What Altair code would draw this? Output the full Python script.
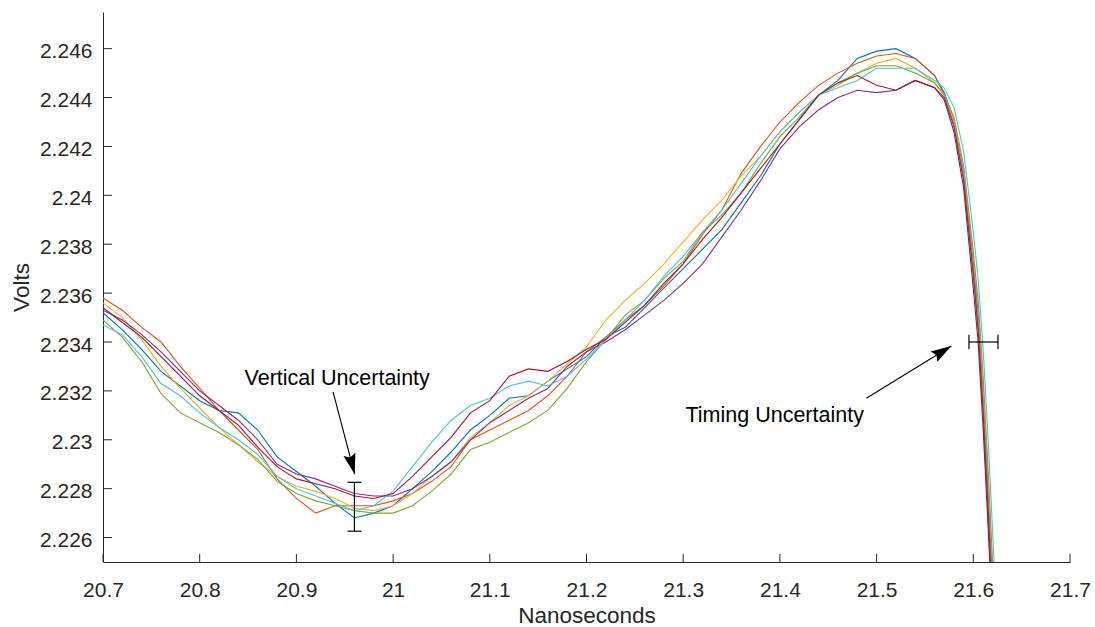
import altair as alt
import pandas as pd

# ---------------- data ----------------
T_GRID = [20.70, 20.72, 20.74, 20.76, 20.78, 20.80, 20.82, 20.84, 20.86, 20.88,
          20.90, 20.92, 20.94, 20.96, 20.98, 21.00, 21.02, 21.04, 21.06, 21.08,
          21.10, 21.12, 21.14, 21.16, 21.18, 21.20, 21.22, 21.24, 21.26, 21.28,
          21.30, 21.32, 21.34, 21.36, 21.38, 21.40, 21.42, 21.44, 21.46, 21.48,
          21.50, 21.52, 21.54, 21.56,
          21.57, 21.58, 21.59, 21.60, 21.605, 21.61, 21.615, 21.62, 21.63]

BLUE = [2.2352, 2.2345, 2.2337, 2.2328, 2.2322, 2.2316, 2.2312, 2.2311, 2.2304, 2.2293,
        2.2287, 2.2281, 2.2274, 2.2268, 2.2270, 2.2273, 2.2280, 2.2287, 2.2295, 2.2304,
        2.2310, 2.2317, 2.2318, 2.2324, 2.2329, 2.2334, 2.2342, 2.2346, 2.2354, 2.2362,
        2.2370, 2.2378, 2.2386, 2.2397, 2.2408, 2.2421, 2.2431, 2.2441, 2.2447, 2.2456,
        2.2459, 2.2460, 2.2456, 2.2449,
        2.2442, 2.2431, 2.2410, 2.2373, 2.2352, 2.2321, 2.2283, 2.2241, 2.2161]
ORANGE = [2.2358, 2.2353, 2.2346, 2.2340, 2.2330, 2.2321, 2.2312, 2.2304, 2.2296, 2.2284,
          2.2276, 2.2270, 2.2273, 2.2273, 2.2273, 2.2275, 2.2278, 2.2283, 2.2289, 2.2300,
          2.2304, 2.2308, 2.2312, 2.2318, 2.2326, 2.2336, 2.2342, 2.2349, 2.2355, 2.2363,
          2.2372, 2.2384, 2.2394, 2.2409, 2.2420, 2.2430, 2.2438, 2.2445, 2.2450, 2.2454,
          2.2457, 2.2458, 2.2456, 2.2449,
          2.2441, 2.2429, 2.2407, 2.2369, 2.2347, 2.2315, 2.2276, 2.2234, 2.2154]
YELLOW = [2.2356, 2.2350, 2.2341, 2.2330, 2.2321, 2.2313, 2.2305, 2.2298, 2.2291, 2.2285,
          2.2281, 2.2279, 2.2276, 2.2272, 2.2271, 2.2273, 2.2278, 2.2285, 2.2291, 2.2301,
          2.2307, 2.2314, 2.2318, 2.2324, 2.2331, 2.2338, 2.2349, 2.2357, 2.2364, 2.2372,
          2.2381, 2.2390, 2.2398, 2.2408, 2.2416, 2.2426, 2.2434, 2.2441, 2.2445, 2.2450,
          2.2454, 2.2456, 2.2452, 2.2446,
          2.2441, 2.2431, 2.2411, 2.2375, 2.2355, 2.2324, 2.2287, 2.2246, 2.2166]
PURPLE = [2.2353, 2.2349, 2.2343, 2.2336, 2.2328, 2.2320, 2.2314, 2.2308, 2.2300, 2.2290,
          2.2286, 2.2284, 2.2281, 2.2278, 2.2277, 2.2277, 2.2280, 2.2285, 2.2291, 2.2300,
          2.2307, 2.2312, 2.2317, 2.2321, 2.2330, 2.2336, 2.2340, 2.2345, 2.2351, 2.2357,
          2.2364, 2.2372, 2.2383, 2.2394, 2.2406, 2.2419, 2.2428, 2.2435, 2.2440, 2.2443,
          2.2442, 2.2443, 2.2447, 2.2444,
          2.2440, 2.2428, 2.2406, 2.2367, 2.2345, 2.2312, 2.2273, 2.2231, 2.2151]
GREEN = [2.2349, 2.2342, 2.2332, 2.2319, 2.2311, 2.2307, 2.2303, 2.2298, 2.2292, 2.2283,
         2.2278, 2.2275, 2.2273, 2.2271, 2.2270, 2.2270, 2.2273, 2.2279, 2.2286, 2.2296,
         2.2299, 2.2303, 2.2307, 2.2312, 2.2321, 2.2332, 2.2341, 2.2351, 2.2357, 2.2366,
         2.2373, 2.2385, 2.2392, 2.2401, 2.2413, 2.2424, 2.2432, 2.2441, 2.2446, 2.2450,
         2.2453, 2.2453, 2.2450, 2.2446,
         2.2441, 2.2432, 2.2412, 2.2377, 2.2357, 2.2327, 2.2290, 2.2249, 2.2169]
CYAN = [2.2347, 2.2343, 2.2334, 2.2323, 2.2318, 2.2311, 2.2305, 2.2300, 2.2294, 2.2285,
        2.2280, 2.2277, 2.2274, 2.2271, 2.2273, 2.2279, 2.2289, 2.2299, 2.2308, 2.2314,
        2.2317, 2.2322, 2.2324, 2.2322, 2.2326, 2.2333, 2.2341, 2.2349, 2.2357, 2.2367,
        2.2375, 2.2385, 2.2394, 2.2405, 2.2416, 2.2426, 2.2434, 2.2441, 2.2444, 2.2447,
        2.2452, 2.2452, 2.2452, 2.2447,
        2.2444, 2.2436, 2.2418, 2.2385, 2.2366, 2.2338, 2.2303, 2.2262, 2.2180]
DARKRED = [2.2354, 2.2348, 2.2342, 2.2334, 2.2326, 2.2318, 2.2312, 2.2306, 2.2297, 2.2289,
           2.2284, 2.2282, 2.2280, 2.2277, 2.2276, 2.2278, 2.2285, 2.2293, 2.2301, 2.2311,
           2.2316, 2.2326, 2.2329, 2.2328, 2.2332, 2.2337, 2.2341, 2.2348, 2.2355, 2.2364,
           2.2372, 2.2382, 2.2391, 2.2401, 2.2411, 2.2421, 2.2431, 2.2441, 2.2446, 2.2449,
           2.2445, 2.2443, 2.2447, 2.2444,
           2.2439, 2.2426, 2.2403, 2.2362, 2.2340, 2.2306, 2.2267, 2.2225, 2.2145]

SERIES_NAMES = ["s1", "s2", "s3", "s4", "s5", "s6", "s7"]
SERIES_COLORS = ["#0072BD", "#D95319", "#EDB120", "#7E2F8E", "#77AC30", "#4DBEEE", "#A2142F"]
SERIES_VALUES = [BLUE, ORANGE, YELLOW, PURPLE, GREEN, CYAN, DARKRED]

X_TICKS = [20.7, 20.8, 20.9, 21.0, 21.1, 21.2, 21.3, 21.4, 21.5, 21.6, 21.7]
Y_TICKS = [2.226, 2.228, 2.230, 2.232, 2.234, 2.236, 2.238, 2.240, 2.242, 2.244, 2.246]
X_DOMAIN = [20.7, 21.7]
Y_DOMAIN = [2.225, 2.2475]

# annotations
LABEL_TEXT = ["Vertical Uncertainty", "Timing Uncertainty"]
LABEL_T = [20.9422, 21.3946]
LABEL_V = [2.23223, 2.23074]

ARROW_T0 = [20.9379, 21.4894]
ARROW_V0 = [2.23196, 2.23170]
ARROW_T1 = [20.9603, 21.5773]
ARROW_V1 = [2.22859, 2.23384]
ARROW_ANGLE = [165, 58]

# error bars: segments (t, v, t2, v2)
ERR_T = [20.96, 20.9528, 20.9528, 21.5955, 21.5955, 21.6255]
ERR_V = [2.22626, 2.22826, 2.22626, 2.234, 2.2337, 2.2337]
ERR_T2 = [20.96, 20.9672, 20.9672, 21.6255, 21.5955, 21.6255]
ERR_V2 = [2.22826, 2.22826, 2.22626, 2.234, 2.2343, 2.2343]

# ---------------- build ----------------
rows = []
for name, vals in zip(SERIES_NAMES, SERIES_VALUES):
    for t, v in zip(T_GRID, vals):
        rows.append({"s": name, "t": t, "v": v})
df = pd.DataFrame(rows)

W, H = 967, 550
FONT = "Liberation Sans"
AX = "#262626"

xscale = alt.Scale(domain=X_DOMAIN, nice=False, zero=False)
yscale = alt.Scale(domain=Y_DOMAIN, nice=False, zero=False)

x_axis = alt.Axis(values=X_TICKS, format=".1~f", ticks=False, grid=False,
                  labelFlush=False, labelOverlap=False,
                  labelPadding=17, titlePadding=4, labelFontSize=21,
                  titleFontSize=22.5, titleFontWeight="normal",
                  domainColor=AX, domainWidth=1, labelColor=AX, titleColor=AX,
                  labelFont=FONT, titleFont=FONT)
y_axis = alt.Axis(values=Y_TICKS, format=".3~f", ticks=False, grid=False,
                  labelFlush=False, labelOverlap=False,
                  labelPadding=11, labelOffset=3, titlePadding=6, labelFontSize=21,
                  titleFontSize=22.5, titleFontWeight="normal",
                  domainColor=AX, domainWidth=1, labelColor=AX, titleColor=AX,
                  labelFont=FONT, titleFont=FONT)


def X(field):
    return alt.X(field, type="quantitative", scale=xscale, axis=x_axis, title="Nanoseconds")


def Y(field):
    return alt.Y(field, type="quantitative", scale=yscale, axis=y_axis, title="Volts")


lines = alt.Chart(df).mark_line(strokeWidth=1.1, clip=True).encode(
    x=X("t"), y=Y("v"),
    color=alt.Color("s:N", scale=alt.Scale(domain=SERIES_NAMES, range=SERIES_COLORS), legend=None),
)

xt = alt.Chart(pd.DataFrame({"t": X_TICKS})).mark_rule(color=AX, strokeWidth=1).encode(
    x=X("t"), y=alt.value(H), y2=alt.value(H - 8),
)
yt = alt.Chart(pd.DataFrame({"v": Y_TICKS})).mark_rule(color=AX, strokeWidth=1).encode(
    y=Y("v"), x=alt.value(0), x2=alt.value(9),
)

err = alt.Chart(pd.DataFrame({"t": ERR_T, "v": ERR_V, "t2": ERR_T2, "v2": ERR_V2})).mark_rule(
    color="#000000", strokeWidth=1.2).encode(
    x=X("t"), x2="t2:Q", y=Y("v"), y2="v2:Q",
)

arrow_df = pd.DataFrame({"t": ARROW_T0, "v": ARROW_V0, "t2": ARROW_T1, "v2": ARROW_V1,
                         "a": ARROW_ANGLE})
shafts = alt.Chart(arrow_df).mark_rule(color="#000000", strokeWidth=1.1).encode(
    x=X("t"), x2="t2:Q", y=Y("v"), y2="v2:Q",
)
heads = alt.Chart(arrow_df).mark_point(
    shape="M0,0L0.6,2L0,1.7L-0.6,2Z", filled=True, color="#000000", opacity=1,
    size=420, strokeWidth=0).encode(
    x=X("t2"), y=Y("v2"),
    angle=alt.Angle("a:Q", scale=None),
)

labels = alt.Chart(pd.DataFrame({"t": LABEL_T, "v": LABEL_V, "txt": LABEL_TEXT})).mark_text(
    font=FONT, fontSize=21.5, color="#000000", align="center", baseline="alphabetic").encode(
    x=X("t"), y=Y("v"), text="txt:N",
)

chart = alt.layer(lines, xt, yt, err, shafts, heads, labels).properties(
    width=W, height=H,
    background="#ffffff",
    view=alt.ViewBackground(strokeWidth=0, stroke="transparent"),
    autosize=alt.AutoSizeParams(type="none"),
    padding={"left": 103, "top": 12, "right": 25, "bottom": 65},
).configure_view(strokeWidth=0, stroke="transparent")

chart.save("out.html", embed_options={"renderer": "svg", "actions": False})
